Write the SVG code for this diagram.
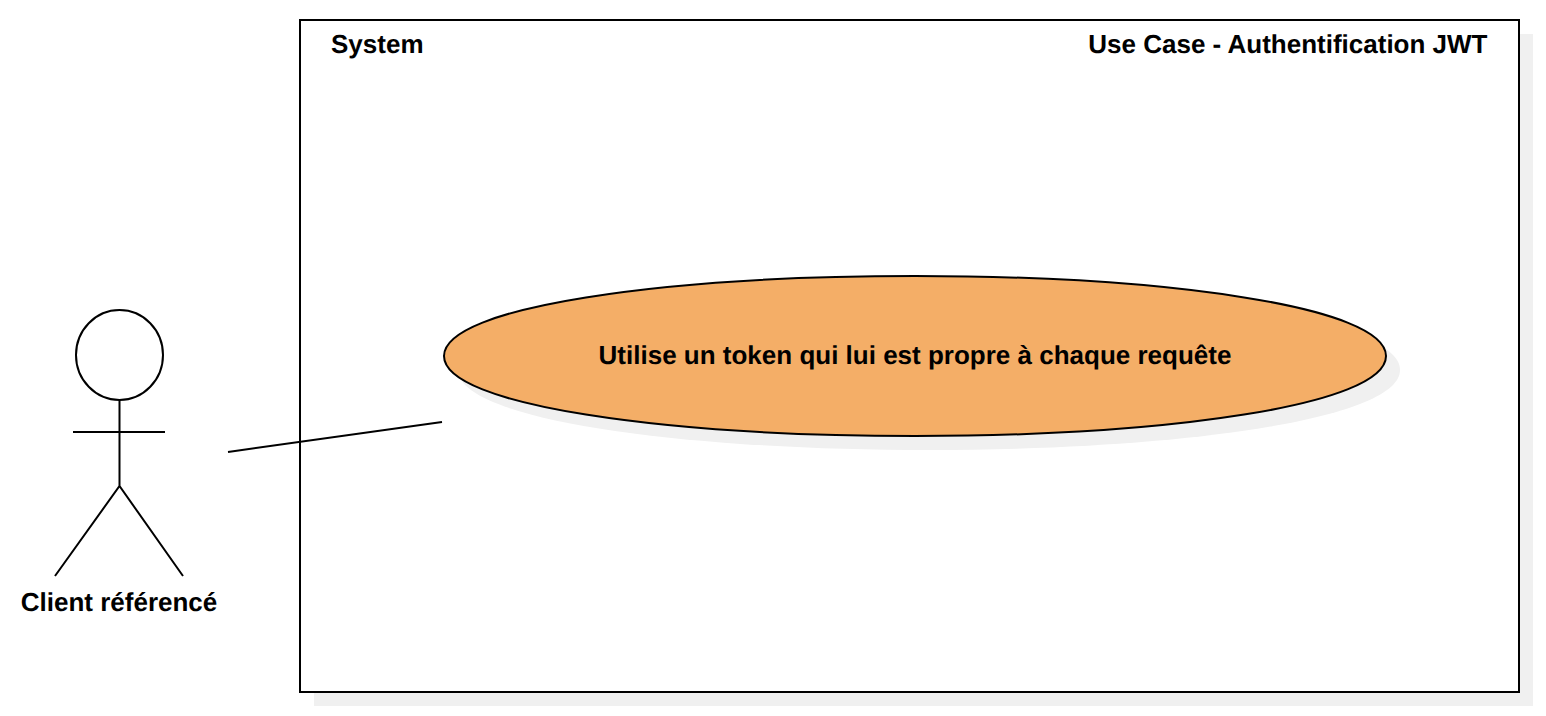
<svg xmlns="http://www.w3.org/2000/svg" width="1546" height="716" viewBox="0 0 1546 716">
<style>
text{font-family:"Liberation Sans",Arial,sans-serif;font-size:26px;font-weight:700;fill:#000;text-rendering:geometricPrecision}
.s{fill:#f0f0f0;stroke:none}
.l{fill:none;stroke:#000;stroke-width:2;stroke-linecap:butt}
</style>
<defs>
<path id="oval" d="M444 356C444 306.400 665.400 276 915 276C1164.600 276 1386 306.400 1386 356C1386 405.600 1164.600 436 915 436C665.400 436 444 405.600 444 356Z"/>
</defs>
<rect width="1546" height="716" fill="#fff"/>
<g id="system">
<rect class="s" x="314" y="34" width="1219" height="672"/>
<rect x="300" y="20" width="1219" height="672" fill="#fff" stroke="#000" stroke-width="2"/>
<text x="331" y="53">System</text>
<text x="1487.500" y="53" text-anchor="end">Use Case - Authentification JWT</text>
</g>
<g id="usecase">
<use href="#oval" class="s" x="14" y="14"/>
<use href="#oval" fill="#f4ae67" stroke="#000" stroke-width="2"/>
<text x="915" y="364" text-anchor="middle">Utilise un token qui lui est propre à chaque requête</text>
</g>
<g id="actor">
<ellipse cx="119.500" cy="355" rx="43.500" ry="45" fill="#fff" stroke="#000" stroke-width="2"/>
<path class="l" d="M119.500 400V486M73 432H165M55 576L119.500 486L183 576"/>
<text x="119" y="611" text-anchor="middle">Client référencé</text>
</g>
<g id="connectors">
<path class="l" d="M228 452L442 422"/>
</g>
</svg>
